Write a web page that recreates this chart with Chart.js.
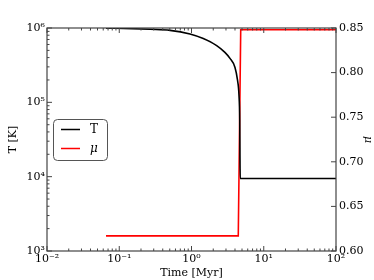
<!DOCTYPE html>
<html><head><meta charset="utf-8">
<script src="https://cdn.jsdelivr.net/npm/chart.js@4"></script>
<style>html,body{margin:0;padding:0;background:#fff}#wrap{width:374px;height:280px}</style>
</head><body><div id="wrap"><canvas id="c" width="374" height="280"></canvas></div>
<script>
// ---- data ----
const timeT  = [0.0656, 0.15, 0.267, 0.504, 0.953, 1.455, 2.23, 2.9, 3.41, 4.0, 4.33, 4.54, 4.65, 4.72, 10, 100];
const tempK  = [9.95e5, 9.8e5, 9.6e5, 9.3e5, 8.3e5, 7.2e5, 5.8e5, 4.7e5, 3.9e5, 2.95e5, 2.0e5, 1.26e5, 5.8e4, 9.45e3, 9.45e3, 9.45e3];
const timeMu = [0.0656, 4.44, 4.80, 100];
const muVals = [0.617, 0.617, 0.848, 0.848];
const xTicks = [0.01, 0.1, 1, 10, 100];
const xTickLabels = ['10\u207B\u00B2', '10\u207B\u00B9', '10\u2070', '10\u00B9', '10\u00B2'];
const yTicks = [1e3, 1e4, 1e5, 1e6];
const yTickLabels = ['10\u00B3', '10\u2074', '10\u2075', '10\u2076'];
const muTicks = [0.60, 0.65, 0.70, 0.75, 0.80, 0.85];
const seriesNames = ['T', '\u03BC'];

const FONT = 'DejaVu Serif';
const f11 = {family: FONT, size: 11};

const framePlugin = {
  id: 'frame',
  afterDatasetsDraw(chart) {
    const ctx = chart.ctx, a = chart.chartArea;
    const xs = chart.scales.x, ys = chart.scales.y, y2 = chart.scales.y2;
    ctx.save();
    ctx.strokeStyle = '#444';
    ctx.lineWidth = 1.2;
    ctx.strokeRect(a.left, a.top, a.right - a.left, a.bottom - a.top);
    ctx.lineWidth = 1;
    ctx.beginPath();
    const logMinor = (lo, hi, fn) => {
      for (let d = Math.log10(lo); d < Math.log10(hi); d++) {
        for (let k = 2; k <= 9; k++) fn(k * Math.pow(10, d), 2.5);
        fn(Math.pow(10, d), 5);
      }
      fn(hi, 5);
    };
    logMinor(0.01, 100, (v, len) => {
      const px = xs.getPixelForValue(v);
      ctx.moveTo(px, a.bottom); ctx.lineTo(px, a.bottom - len);
      ctx.moveTo(px, a.top); ctx.lineTo(px, a.top + len);
    });
    logMinor(1e3, 1e6, (v, len) => {
      const py = ys.getPixelForValue(v);
      ctx.moveTo(a.left, py); ctx.lineTo(a.left + len, py);
    });
    muTicks.forEach(v => {
      const py = y2.getPixelForValue(v);
      ctx.moveTo(a.right, py); ctx.lineTo(a.right - 5, py);
    });
    ctx.stroke();

    // legend inside the axes
    const bx = 53, by = 119, bw = 54, bh = 41, r = 4;
    ctx.fillStyle = '#fff';
    ctx.strokeStyle = '#555';
    ctx.lineWidth = 1;
    ctx.beginPath();
    ctx.roundRect(bx + 0.5, by + 0.5, bw, bh, r);
    ctx.fill(); ctx.stroke();
    chart.data.datasets.forEach((ds, i) => {
      const yy = by + 10.5 + i * 19;
      ctx.strokeStyle = ds.borderColor;
      ctx.lineWidth = 1.5;
      ctx.beginPath(); ctx.moveTo(61, yy); ctx.lineTo(80, yy); ctx.stroke();
      ctx.fillStyle = '#000';
      ctx.font = (i === 1 ? 'italic ' : '') + '12px "' + FONT + '"';
      ctx.textAlign = 'center'; ctx.textBaseline = 'middle';
      ctx.fillText(ds.label, 94, yy);
    });
    ctx.restore();
  }
};

new Chart(document.getElementById('c'), {
  type: 'line',
  data: {
    datasets: [
      {label: seriesNames[0], data: timeT.map((t, i) => ({x: t, y: tempK[i]})), yAxisID: 'y',
       borderColor: '#000', borderWidth: 1.6, pointRadius: 0, cubicInterpolationMode: 'monotone', fill: false},
      {label: seriesNames[1], data: timeMu.map((t, i) => ({x: t, y: muVals[i]})), yAxisID: 'y2',
       borderColor: '#ff0000', borderWidth: 1.6, pointRadius: 0, tension: 0, fill: false}
    ]
  },
  options: {
    responsive: false, animation: false, devicePixelRatio: 1,
    layout: {padding: {top: 28, left: 0, right: 0, bottom: 0}},
    plugins: {legend: {display: false}, tooltip: {enabled: false}},
    scales: {
      x: {
        type: 'logarithmic', position: 'bottom', min: 0.01, max: 100,
        afterBuildTicks: s => { s.ticks = xTicks.map(v => ({value: v})); },
        afterFit: s => { s.height = 29; },
        ticks: {callback: v => xTickLabels[xTicks.indexOf(v)], autoSkip: false, maxRotation: 0, padding: 2, font: f11, color: '#000'},
        grid: {display: false, drawTicks: false}, border: {display: false},
        title: {display: true, text: 'Time [Myr]', font: f11, color: '#000', padding: {top: 0, bottom: 0}}
      },
      y: {
        type: 'logarithmic', position: 'left', min: 1e3, max: 1e6,
        afterBuildTicks: s => { s.ticks = yTicks.map(v => ({value: v})); },
        afterFit: s => { s.width = 47; },
        ticks: {callback: v => yTickLabels[yTicks.indexOf(v)], autoSkip: false, padding: 2, font: f11, color: '#000'},
        grid: {display: false, drawTicks: false}, border: {display: false},
        title: {display: true, text: 'T [K]', font: f11, color: '#000', padding: {top: 7, bottom: 0}}
      },
      y2: {
        type: 'linear', position: 'right', min: 0.6, max: 0.85,
        afterBuildTicks: s => { s.ticks = muTicks.map(v => ({value: v})); },
        afterFit: s => { s.width = 38; },
        ticks: {callback: v => v.toFixed(2), autoSkip: false, padding: 3, font: f11, color: '#000'},
        grid: {display: false, drawTicks: false}, border: {display: false},
        title: {display: true, text: '\u03BC', font: {family: FONT, size: 11, style: 'italic'}, color: '#000', padding: {top: 0, bottom: 0}}
      }
    }
  },
  plugins: [framePlugin]
});
</script></body></html>
